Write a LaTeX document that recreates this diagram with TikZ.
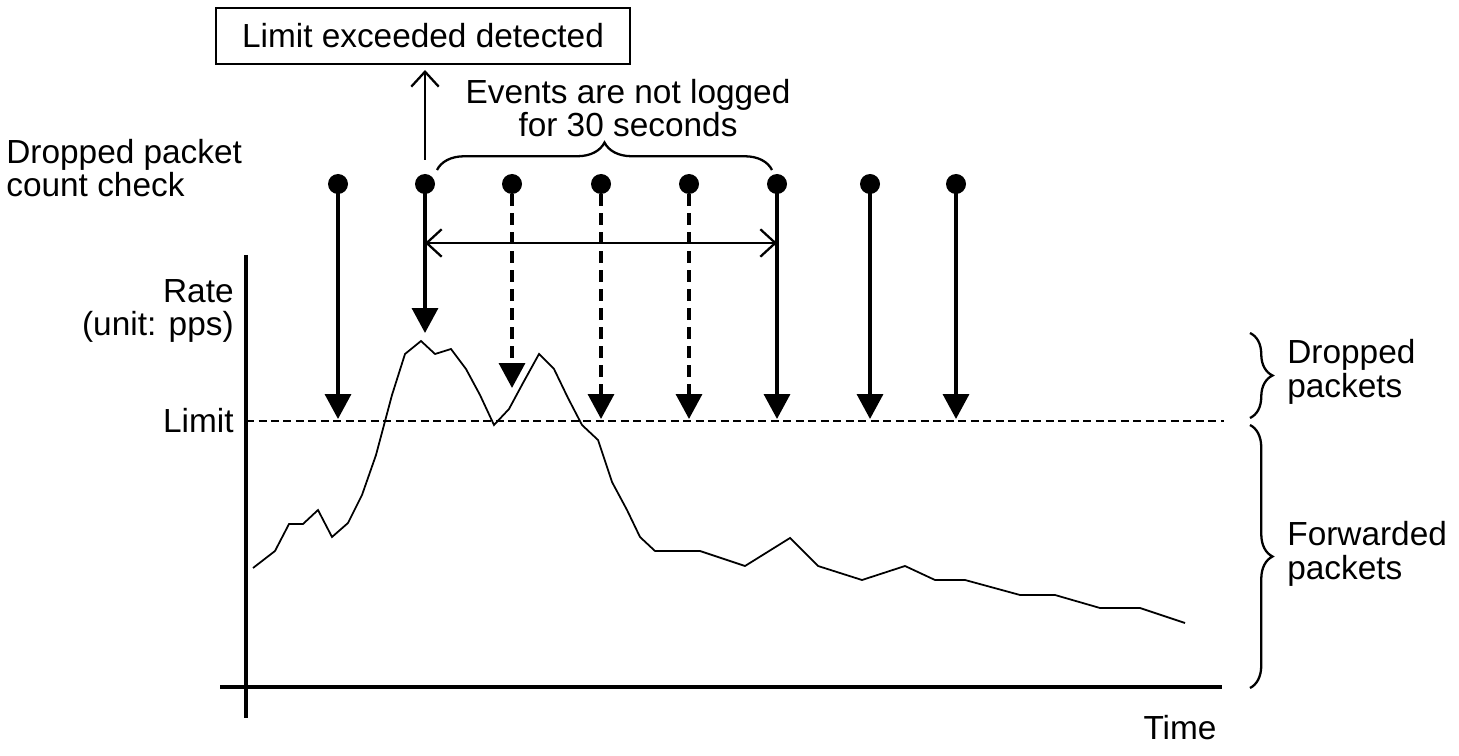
\documentclass[tikz,border=0pt]{standalone}
\usepackage{fontspec}
\setmainfont{Liberation Sans}
\usetikzlibrary{positioning, arrows.meta, decorations.pathreplacing}

\begin{document}
\begin{tikzpicture}[x=0.02cm, y=0.02cm,
  lbl/.style={font=\fontsize{19}{19}\selectfont, inner sep=0pt},
  dot/.style={circle, fill, inner sep=0pt, minimum size=0.4cm},
  chk/.style={line width=2pt, -{Triangle[length=0.5cm, width=0.52cm]}},
  skip/.style={chk, dash pattern=on 0.24cm off 0.14cm},
  open/.style={line width=1.3pt, -{Straight Barb[length=0.3cm, width=0.55cm]}},
  both/.style={line width=1.3pt, {Straight Barb[length=0.3cm, width=0.55cm]}-{Straight Barb[length=0.3cm, width=0.55cm]}},
  bracetop/.style={line width=1.3pt, decorate, decoration={brace, amplitude=0.55cm}},
  braceside/.style={line width=1.3pt, decorate, decoration={brace, amplitude=0.45cm}}]
\useasboundingbox (0,0) rectangle (1459,-756);

% axes and limit
\draw[line width=1.9pt] (246,-255) -- (246,-718);
\draw[line width=1.9pt] (220,-687) -- (1222,-687);
\draw[line width=1.7pt, dash pattern=on 0.16cm off 0.09cm] (246,-421) -- (1224,-421);

\node[lbl, anchor=east, align=right] (rate) at (234,-311) {Rate\\(unit: pps)};
\node[lbl, anchor=east] (limit) at (234,-421) {Limit};
\node[lbl] (time) at (1180,-728) {Time};
\node[lbl, anchor=west, align=left] (check) at (6,-168) {Dropped packet\\count check};

% rate curve
\draw[line width=1pt] (253,-568) -- (275,-551) -- (289,-524) -- (303,-524) -- (318,-510)
  -- (332,-537) -- (348,-523) -- (362,-495) -- (376,-455) -- (392,-395) -- (405,-354)
  -- (421,-341) -- (435,-354) -- (451,-349) -- (466,-369) -- (480,-395) -- (494,-425)
  -- (509,-409) -- (523,-383) -- (539,-354) -- (554,-369) -- (568,-398) -- (582,-425)
  -- (598,-440) -- (612,-482) -- (627,-510) -- (640,-537) -- (655,-551) -- (700,-551)
  -- (745,-566) -- (790,-538) -- (818,-566) -- (862,-580) -- (905,-566) -- (935,-580)
  -- (965,-580) -- (1020,-595) -- (1055,-595) -- (1100,-608) -- (1140,-608) -- (1185,-623);

% check points
\node[dot] (c1) at (338,-184) {};
\node[dot] (c2) at (425,-184) {};
\node[dot] (c3) at (512,-184) {};
\node[dot] (c4) at (601,-184) {};
\node[dot] (c5) at (689,-184) {};
\node[dot] (c6) at (777,-184) {};
\node[dot] (c7) at (870,-184) {};
\node[dot] (c8) at (956,-184) {};

\coordinate (t1) at (338,-419);
\coordinate (t2) at (425,-333);
\coordinate (t3) at (512,-388);
\coordinate (t4) at (601,-419);
\coordinate (t5) at (689,-419);
\coordinate (t6) at (777,-419);
\coordinate (t7) at (870,-419);
\coordinate (t8) at (956,-419);

\draw[chk] (c1.center) -- (t1);
\draw[chk] (c2.center) -- (t2);
\draw[skip] (c3.south) -- (t3);
\draw[skip] (c4.south) -- (t4);
\draw[skip] (c5.south) -- (t5);
\draw[chk] (c6.center) -- (t6);
\draw[chk] (c7.center) -- (t7);
\draw[chk] (c8.center) -- (t8);

% 30 second window
\coordinate (w1) at (425,-243);
\coordinate (w2) at (777,-243);
\draw[both] (w1) -- (w2);
\draw[bracetop] (437,-170) -- (772,-170);
\node[lbl, align=center] (quiet) at (628,-108) {Events are not logged\\for 30 seconds};

% detection
\node[lbl, draw, line width=1.3pt, minimum width=8.28cm, minimum height=1.12cm] (detect) at (423,-36) {Limit exceeded detected};
\coordinate (up) at (425,-160);
\coordinate (uptip) at (425,-70);
\draw[open] (up) -- (uptip);

% right braces
\draw[braceside] (1250,-333) -- (1250,-418);
\draw[braceside] (1250,-425) -- (1250,-688);
\node[lbl, anchor=west, align=left] (dropped) at (1287,-372) {Dropped\\packets};
\node[lbl, anchor=west, align=left] (fwd) at (1287,-554) {Forwarded\\packets};
\end{tikzpicture}
\end{document}
